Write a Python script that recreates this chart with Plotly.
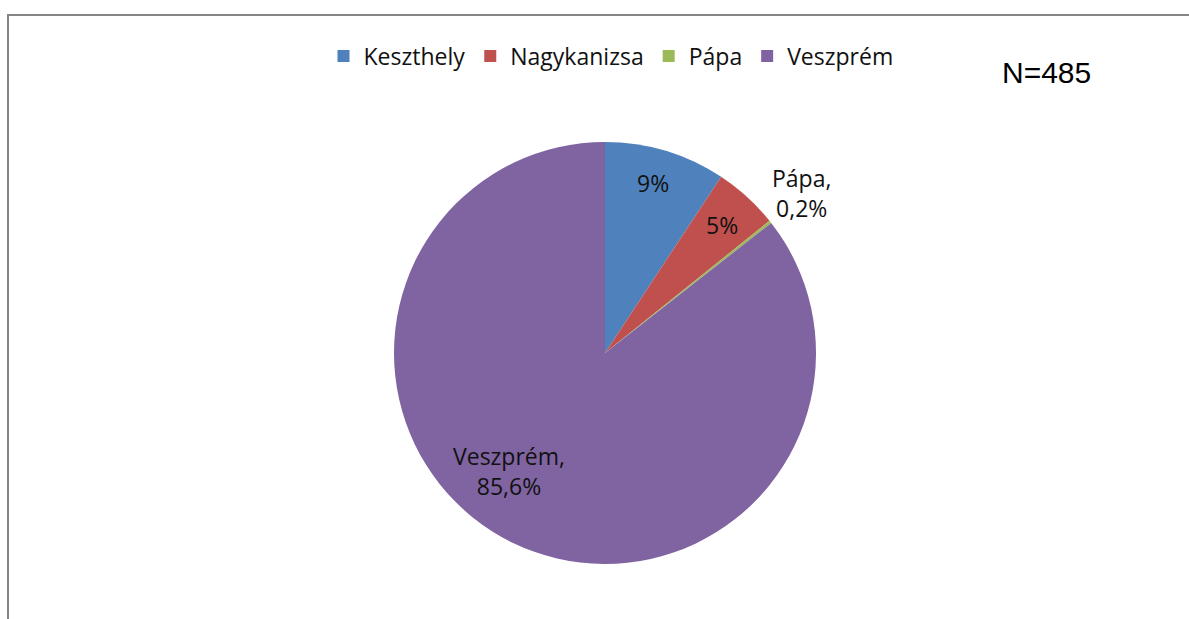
import plotly.graph_objects as go

categories = ["Keszthely", "Nagykanizsa", "Pápa", "Veszprém"]
counts = [45, 24, 1, 415]
slice_labels = ["9%", "5%", "Pápa,<br>0,2%", "Veszprém,<br>85,6%"]
label_px = [(653, 183), (722, 225), (801, 193), (509, 471)]
colors = ["#4F81BD", "#C0504D", "#9BBB59", "#8064A2"]

W, H = 1189, 619
cx, cy, r = 605, 353, 211
FONT = "Open Sans"

fig = go.Figure(go.Pie(
    labels=categories,
    values=counts,
    textinfo="none",
    sort=False,
    direction="clockwise",
    rotation=0,
    marker=dict(colors=colors, line=dict(color="white", width=0)),
    domain=dict(x=[(cx - r) / W, (cx + r) / W],
                y=[(H - cy - r) / H, (H - cy + r) / H]),
    hoverinfo="label+percent",
))

annotations = [
    dict(text="N=485", xref="paper", yref="paper", x=1000 / W, y=1 - 72 / H,
         xanchor="left", yanchor="middle", showarrow=False,
         font=dict(family="Liberation Sans", size=30, color="black"))
]
for txt, (lx, ly) in zip(slice_labels, label_px):
    annotations.append(dict(text=txt, xref="paper", yref="paper", x=lx / W, y=1 - ly / H,
                            xanchor="center", yanchor="middle", showarrow=False,
                            font=dict(family=FONT, size=23, color="#111111")))

fig.update_layout(
    width=W, height=H,
    margin=dict(l=0, r=0, t=0, b=0),
    paper_bgcolor="white",
    showlegend=True,
    legend=dict(orientation="h", x=611 / W, xanchor="center", y=1 - 56 / H, yanchor="middle",
                font=dict(family=FONT, size=23, color="#111111"),
                itemwidth=30, tracegroupgap=0),
    shapes=[dict(type="rect", xref="paper", yref="paper",
                 x0=8 / W, x1=1.05, y0=-0.05, y1=1 - 15 / H,
                 line=dict(color="#868686", width=2))],
    annotations=annotations,
)

fig.write_html("out.html", config={"displayModeBar": False},
               post_script="document.body.style.margin='0px';")
